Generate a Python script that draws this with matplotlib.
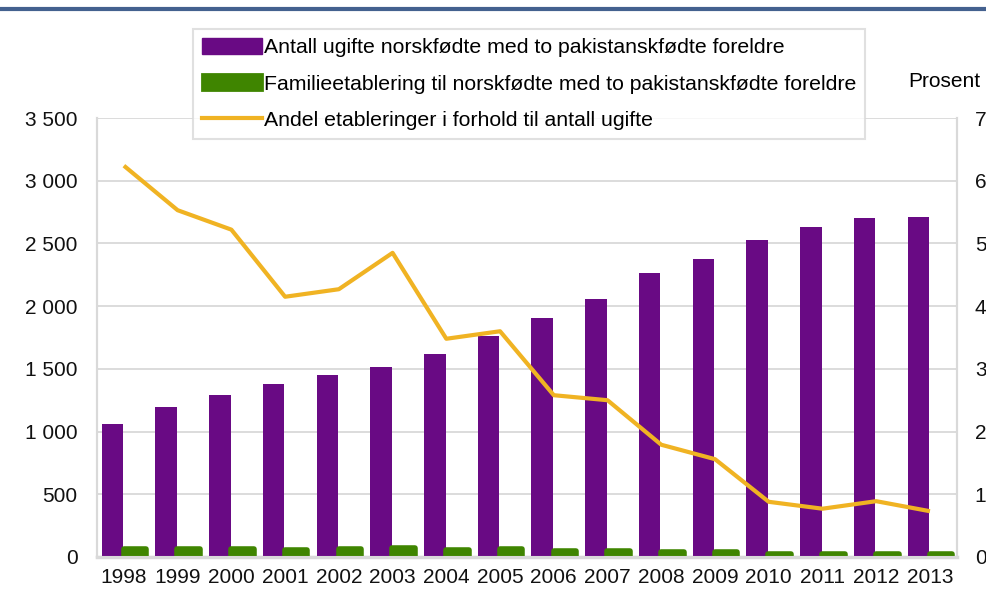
import numpy as np
import matplotlib
matplotlib.use("Agg")
import matplotlib.pyplot as plt
from matplotlib.patches import Patch
from matplotlib.lines import Line2D

years = ["1998", "1999", "2000", "2001", "2002", "2003", "2004", "2005",
         "2006", "2007", "2008", "2009", "2010", "2011", "2012", "2013"]
ugifte = [1060, 1196, 1292, 1380, 1451, 1515, 1619, 1762,
          1906, 2057, 2265, 2376, 2528, 2632, 2703, 2711]
etableringer = [66, 66, 67, 57, 62, 73, 56, 63,
                49, 51, 40, 37, 22, 20, 24, 20]
andel = [6.24, 5.53, 5.22, 4.15, 4.27, 4.85, 3.48, 3.60,
         2.58, 2.50, 1.79, 1.56, 0.88, 0.77, 0.89, 0.73]

lbl_ugifte = "Antall ugifte norskfødte med to pakistanskfødte foreldre"
lbl_etab = "Familieetablering til norskfødte med to pakistanskfødte foreldre"
lbl_andel = "Andel etableringer i forhold til antall ugifte"

PURPLE = "#690a84"
GREEN = "#3f8500"
YELLOW = "#f0b323"
GRID = "#d9d9d9"
FS = 15

plt.rcParams["font.family"] = ["Liberation Sans", "DejaVu Sans"]

fig = plt.figure(figsize=(9.86, 5.94), dpi=100)
ax = fig.add_axes([0.0984, 0.0623, 0.872, 0.739])
ax2 = ax.twinx()

x = np.arange(len(years))
ax.bar(x - 0.215, ugifte, width=0.40, color=PURPLE, zorder=3)
ax.bar(x + 0.205, etableringer, width=0.42, color=GREEN, edgecolor=GREEN,
       linewidth=4, joinstyle="round", zorder=3)
ax2.plot(x, andel, color=YELLOW, linewidth=3, solid_capstyle="butt", zorder=4)

ax.set_xlim(-0.5, len(years) - 0.5)
ax.set_ylim(0, 3500)
ax.set_yticks(np.arange(0, 3501, 500))
ax.set_yticklabels([f"{v:,}".replace(",", " ") for v in range(0, 3501, 500)])
ax2.set_ylim(0, 7)
ax2.set_yticks(range(0, 8))
ax.set_xticks(x)
ax.set_xticklabels(years)

ax.grid(axis="y", color=GRID, linewidth=1.3, zorder=0)
ax.set_axisbelow(True)
for a in (ax, ax2):
    a.tick_params(length=0, labelsize=FS, colors="#111111")
    for s in a.spines.values():
        s.set_color(GRID)
        s.set_linewidth(1.5)
    a.spines["top"].set_visible(False)
ax.spines["bottom"].set_linewidth(2.5)
ax.tick_params(axis="y", pad=14)
ax.tick_params(axis="x", pad=8)
ax2.tick_params(axis="y", pad=13)

fig.text(0.921, 0.862, "Prosent", fontsize=FS, ha="left", va="center")

handles = [
    Patch(facecolor=PURPLE, edgecolor=PURPLE),
    Patch(facecolor=GREEN, edgecolor=GREEN, linewidth=2, joinstyle="round"),
    Line2D([0], [0], color=YELLOW, linewidth=3),
]
leg = fig.legend(handles, [lbl_ugifte, lbl_etab, lbl_andel],
                 loc="upper left", bbox_to_anchor=(0.196, 0.951),
                 fontsize=15.3, frameon=True, fancybox=False,
                 handlelength=2.85, handleheight=0.8, handletextpad=0.1,
                 labelspacing=0.8, borderpad=0.4, borderaxespad=0)
leg.get_frame().set_edgecolor(GRID)
leg.get_frame().set_linewidth(1.5)
leg.set_zorder(10)

fig.add_artist(Line2D([0.002, 1.0], [0.985, 0.985], color="#44618f",
                      linewidth=3, transform=fig.transFigure))

fig.savefig("out.png", dpi=100)
